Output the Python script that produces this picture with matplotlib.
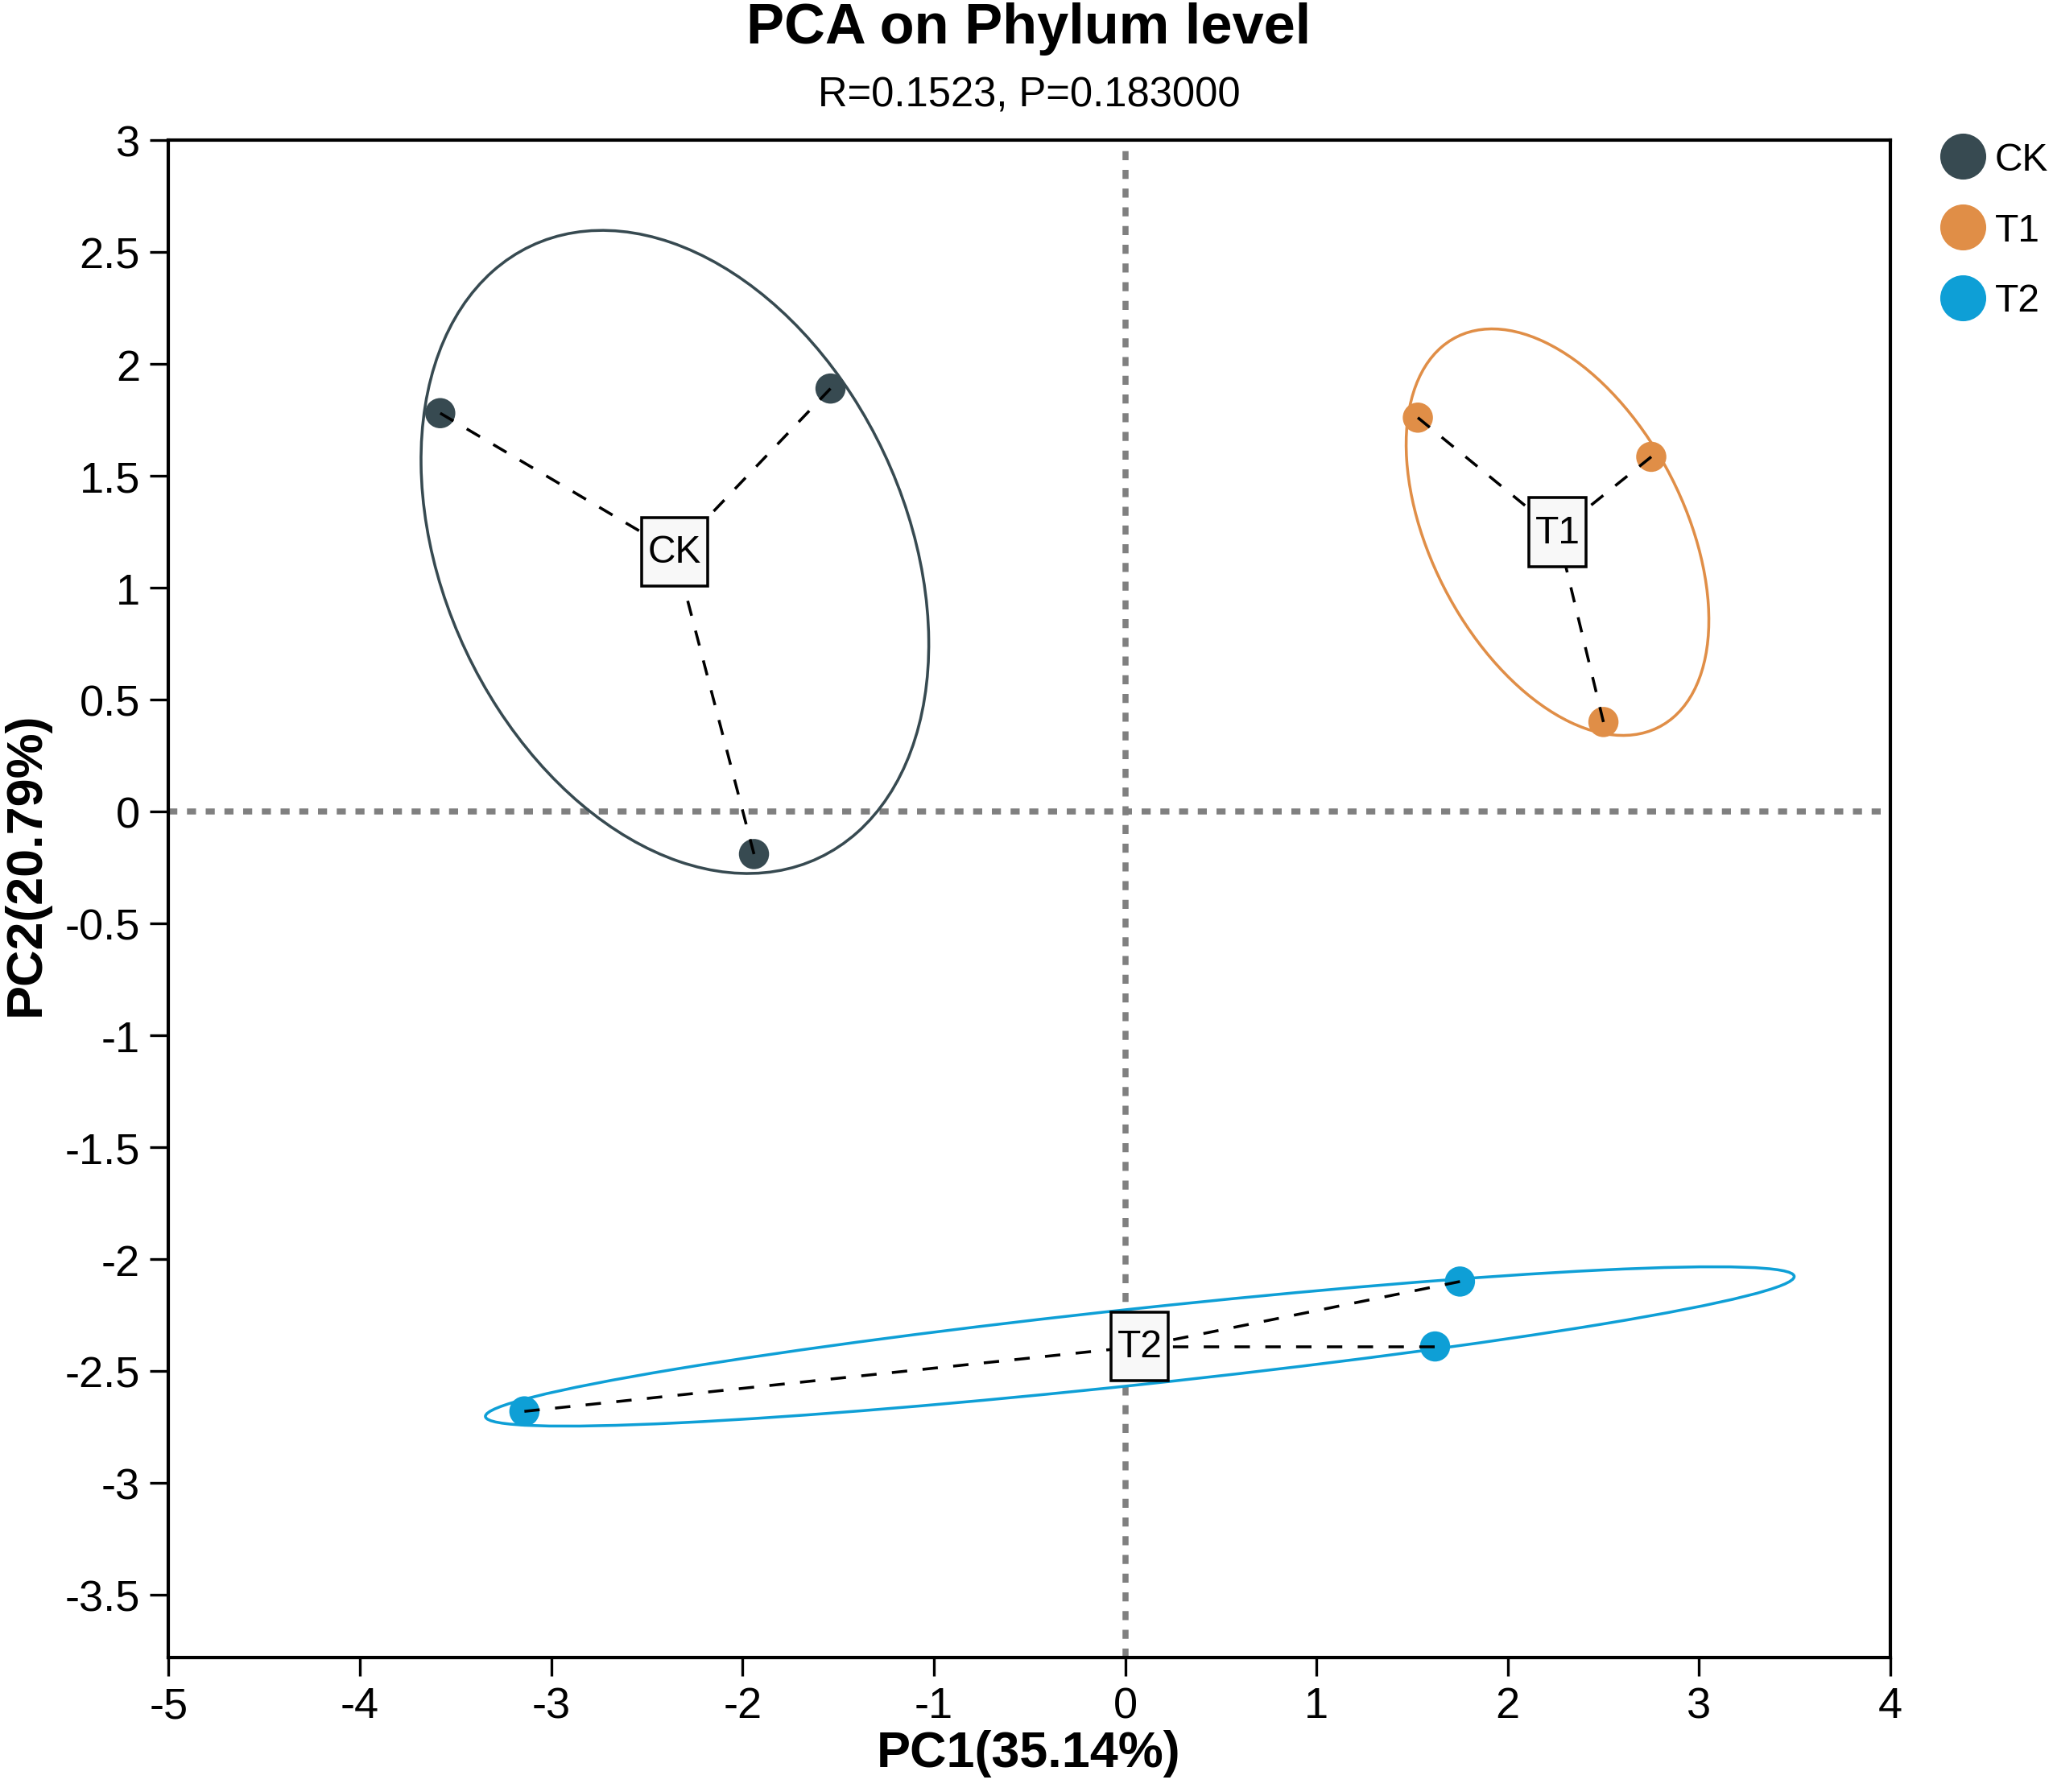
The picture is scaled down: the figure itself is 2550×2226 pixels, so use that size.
import numpy as np
import matplotlib
matplotlib.use("Agg")
import matplotlib.pyplot as plt
from matplotlib.patches import Ellipse
from matplotlib.lines import Line2D
from matplotlib.path import Path

plt.rcParams['font.family'] = ['Liberation Sans', 'DejaVu Sans']

# sample scores
groups = ['CK', 'T1', 'T2']
colors = ['#374A51', '#E08E47', '#0E9FD6']
pc1 = {
    'CK': [-3.58, -1.54, -1.94],
    'T1': [1.53, 2.75, 2.50],
    'T2': [-3.14, 1.75, 1.62],
}
pc2 = {
    'CK': [1.78, 1.89, -0.19],
    'T1': [1.76, 1.585, 0.40],
    'T2': [-2.68, -2.10, -2.39],
}
ellipse_scale = 1.2275

title = 'PCA on Phylum level'
subtitle = 'R=0.1523, P=0.183000'
xlabel = 'PC1(35.14%)'
ylabel = 'PC2(20.79%)'
xticks = [-5, -4, -3, -2, -1, 0, 1, 2, 3, 4]
yticks = [3, 2.5, 2, 1.5, 1, 0.5, 0, -0.5, -1, -1.5, -2, -2.5, -3, -3.5]


def tick_fmt(v):
    return ('%g' % v)


def tall_box(x0, y0, width, height, mutation_size):
    # label box: narrow side padding, taller top/bottom padding
    px = 0.16 * mutation_size
    py = 0.42 * mutation_size
    x0, y0 = x0 - px, y0 - py
    x1, y1 = x0 + width + 2 * px, y0 + height + 2 * py
    return Path([(x0, y0), (x1, y0), (x1, y1), (x0, y1), (x0, y0)], closed=True)


def cov_ellipse(x, y, scale, color):
    x = np.asarray(x)
    y = np.asarray(y)
    cov = np.cov(x, y)
    vals, vecs = np.linalg.eigh(cov)
    order = vals.argsort()[::-1]
    vals, vecs = vals[order], vecs[:, order]
    angle = np.degrees(np.arctan2(vecs[1, 0], vecs[0, 0]))
    w, h = 2 * scale * np.sqrt(vals)
    return Ellipse((x.mean(), y.mean()), w, h, angle=angle,
                   fill=False, ec=color, lw=0.85, zorder=2)


fig = plt.figure(figsize=(8.5, 7.4233), dpi=300)
ax = fig.add_axes([0.0821, 0.075, 0.9208 - 0.0821, 0.9214 - 0.075])

ax.axhline(0, color='#808080', lw=1.8, ls=(0, (1.5, 1.6)), zorder=1)
ax.axvline(0, color='#808080', lw=1.8, ls=(0, (1.5, 1.6)), zorder=1)

for g, c in zip(groups, colors):
    xs, ys = pc1[g], pc2[g]
    cx, cy = np.mean(xs), np.mean(ys)
    ax.add_patch(cov_ellipse(xs, ys, ellipse_scale, c))
    ax.scatter(xs, ys, s=9 ** 2, color=c, edgecolors='none', zorder=3)
    for px, py in zip(xs, ys):
        ax.plot([px, cx], [py, cy], color='black', lw=0.85,
                ls=(0, (5.4, 5.4)), zorder=4)
    ax.text(cx, cy, g, ha='center', va='center', fontsize=11.5, zorder=5,
            bbox=dict(boxstyle=tall_box, fc='#F8F8F8', ec='black', lw=0.85))

ax.set_xlim(-5, 4)
ax.set_ylim(-3.78, 3)
ax.set_xticks(xticks)
ax.set_xticklabels([tick_fmt(v) for v in xticks])
ax.set_yticks(yticks)
ax.set_yticklabels([tick_fmt(v) for v in yticks])
ax.tick_params(direction='out', length=5.5, width=0.8, labelsize=13, pad=3,
               color='black')
for sp in ax.spines.values():
    sp.set_linewidth(1.0)
    sp.set_color('black')

fig.text(0.5012, 1 - 36 / 2227, title, ha='center', va='center',
         fontsize=16.9, fontweight='bold')
fig.text(0.5012, 1 - 119 / 2227, subtitle, ha='center', va='center',
         fontsize=12.2)
fig.text(0.5012, 1 - 2179 / 2227, xlabel, ha='center', va='center',
         fontsize=15.1, fontweight='bold')
fig.text(32 / 2550, 1 - 1073 / 2227, ylabel, ha='center', va='center',
         fontsize=15.1, fontweight='bold', rotation=90)

handles = [Line2D([], [], marker='o', ls='none', color=c, markersize=13.7,
                  markeredgewidth=0) for c in colors]
fig.legend(handles, groups, loc='upper left', bbox_to_anchor=(0.9467, 0.9205),
           frameon=False, fontsize=11.5, handlelength=1.0, handletextpad=0.33,
           labelspacing=0.89, borderpad=0, borderaxespad=0)

fig.savefig('out.png', dpi=300, facecolor='white')
